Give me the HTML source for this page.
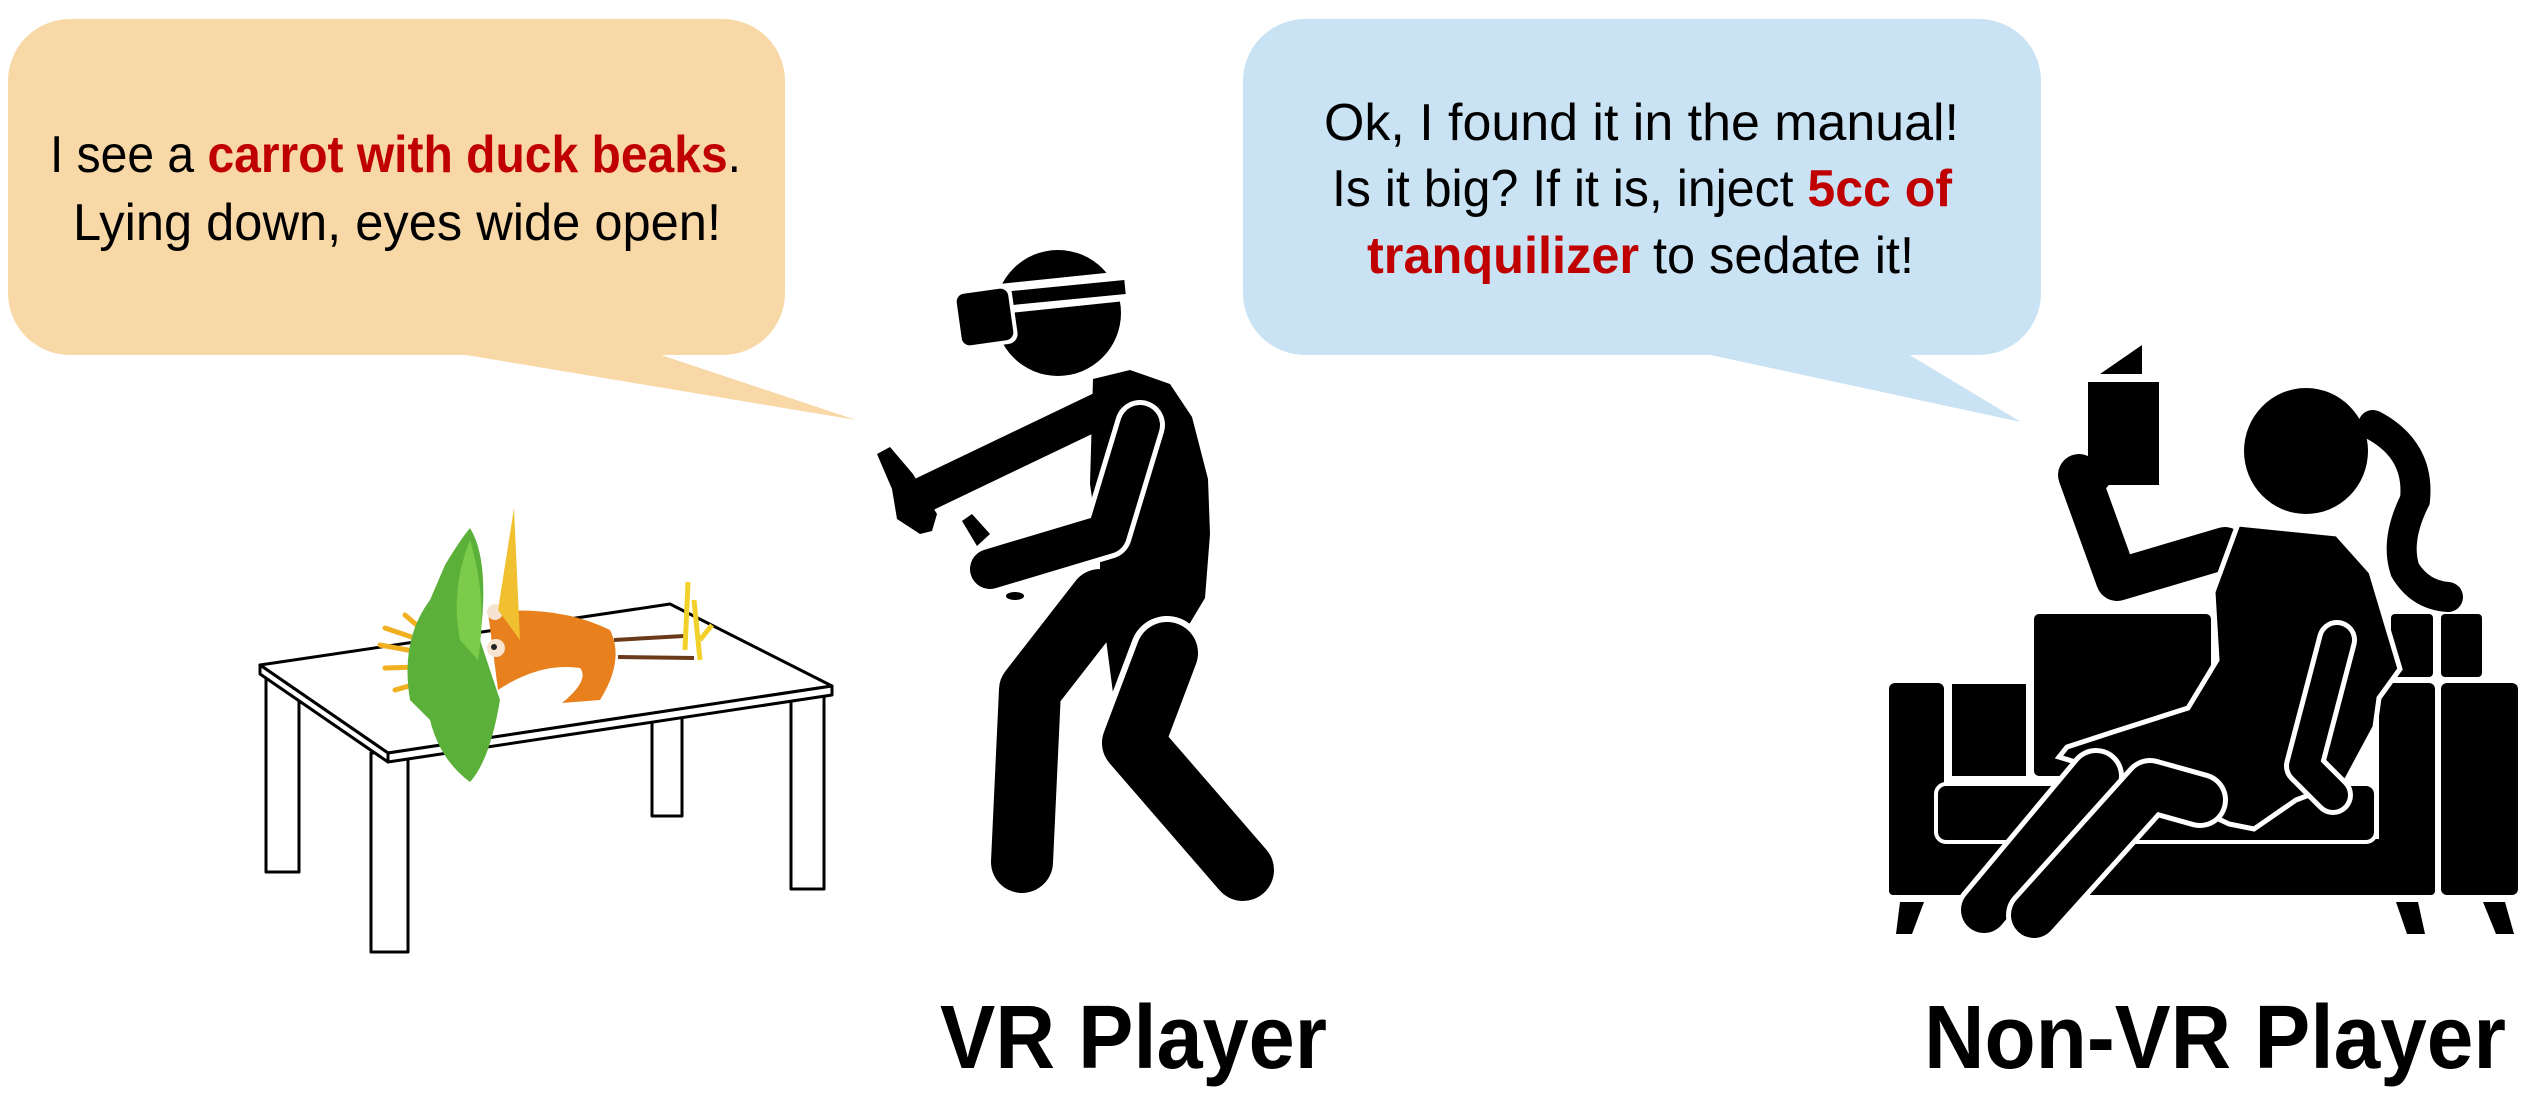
<!DOCTYPE html>
<html><head><meta charset="utf-8"><style>
html,body{margin:0;padding:0;background:#fff;}
svg{display:block;}
</style></head><body>
<svg width="2532" height="1098" viewBox="0 0 2532 1098" xmlns="http://www.w3.org/2000/svg" font-family="'Liberation Sans', sans-serif">
<!-- left bubble -->
<rect x="8" y="19" width="777" height="336" rx="62" fill="#F8D8A6"/>
<polygon points="460,354 658,354 856,420" fill="#F8D8A6"/>
<text y="172" x="50" font-size="52" textLength="691" lengthAdjust="spacingAndGlyphs" fill="#000">I see a <tspan fill="#C00000" font-weight="bold">carrot with duck beaks</tspan>.</text>
<text y="240" x="73" font-size="52" textLength="648" lengthAdjust="spacingAndGlyphs" fill="#000">Lying down, eyes wide open!</text>

<!-- right bubble -->
<rect x="1243" y="19" width="798" height="336" rx="62" fill="#C9E2F4"/>
<polygon points="1706,354 1908,354 2021,422" fill="#C9E2F4"/>
<text y="140" x="1324" font-size="52" textLength="635" lengthAdjust="spacingAndGlyphs">Ok, I found it in the manual!</text>
<text y="206" x="1332" font-size="52" textLength="620" lengthAdjust="spacingAndGlyphs">Is it big? If it is, inject <tspan fill="#C00000" font-weight="bold">5cc of</tspan></text>
<text y="273" x="1367" font-size="52" textLength="547" lengthAdjust="spacingAndGlyphs"><tspan fill="#C00000" font-weight="bold">tranquilizer</tspan> to sedate it!</text>

<!-- table -->
<g stroke="#000" stroke-width="3" fill="#fff" stroke-linejoin="round">
<rect x="266" y="676" width="33" height="196"/>
<rect x="652" y="700" width="30" height="116"/>
<rect x="791" y="693" width="33" height="196"/>
<rect x="371" y="753" width="37" height="199"/>
<polygon points="260,665 670,604 832,686 388,753"/>
<polygon points="260,665 388,753 388,762 260,674"/>
<polygon points="388,753 832,686 832,695 388,762"/>
</g>
<!-- carrot -->
<g>
<path d="M450,650 L385,628 M452,658 L380,645 M455,666 L385,668 M458,672 L395,690 M460,662 L405,615" stroke="#F0B020" stroke-width="5" stroke-linecap="round"/>
<path d="M614,640 L684,636 M618,657 L694,658" stroke="#6B3A1A" stroke-width="4"/>
<path d="M688,582 L685,650 M694,600 L700,660 M700,640 L712,625" stroke="#F2D22A" stroke-width="5"/>
<path d="M488,612 Q560,605 610,630 Q625,660 600,700 L562,703 Q590,680 580,668 Q540,662 498,690 Z" fill="#E8801E"/>
<circle cx="495" cy="612" r="8" fill="#F6E4D0"/><circle cx="496" cy="648" r="9" fill="#F6E4D0"/>
<circle cx="494" cy="647" r="3" fill="#222"/>
<polygon points="514,508 520,640 498,610" fill="#F0C030"/>
<path d="M470,528 Q490,560 480,640 L500,700 Q490,760 470,782 Q440,760 430,720 L410,700 Q400,640 430,600 L445,565 Q460,540 470,528 Z" fill="#5BB03A"/>
<path d="M470,540 Q488,600 478,660 L460,640 Q450,590 470,540 Z" fill="#7CCB4A"/>
</g>

<!-- VR player -->
<g fill="#000">
<circle cx="1058" cy="313" r="63"/>
<path d="M1100,600 L1030,690 L1022,862" stroke="#000" stroke-width="62" stroke-linecap="round" stroke-linejoin="round" fill="none"/>
<polygon points="1093,379 1130,370 1170,384 1192,417 1208,479 1210,534 1205,598 1190,623 1113,693 1100,593 1100,554 1090,484"/>
<path d="M1167,653 L1133,743 L1243,870" stroke="#fff" stroke-width="74" stroke-linecap="round" stroke-linejoin="round" fill="none"/>
<path d="M1167,653 L1133,743 L1243,870" stroke="#000" stroke-width="62" stroke-linecap="round" stroke-linejoin="round" fill="none"/>
<path d="M1113,404 L925,494" stroke="#000" stroke-width="36" stroke-linecap="round" fill="none"/>
<polygon points="877,454 890,447 913,474 937,514 932,531 920,534 897,519 892,489"/>
<path d="M1140,425 L1107,534 L990,569" stroke="#fff" stroke-width="50" stroke-linecap="round" stroke-linejoin="round" fill="none"/>
<path d="M1140,425 L1107,534 L990,569" stroke="#000" stroke-width="40" stroke-linecap="round" stroke-linejoin="round" fill="none"/>
<polygon points="962,521 972,514 990,534 977,546"/>
<ellipse cx="1015" cy="596" rx="9" ry="4"/>
<path d="M990,300 L1125,286" stroke="#fff" stroke-width="30"/>
<path d="M992,300 L1125,287" stroke="#000" stroke-width="14"/>
<rect x="955" y="287" width="60" height="60" rx="10" fill="#fff" transform="rotate(-8 985 317)"/>
<rect x="959" y="291" width="52" height="52" rx="8" transform="rotate(-8 985 317)"/>
</g>

<!-- Non-VR player: sofa -->
<g fill="#000">
<rect x="1889" y="683" width="55" height="212" rx="6"/>
<rect x="1952" y="684" width="74" height="92"/>
<rect x="2034" y="614" width="177" height="162" rx="5"/>
<rect x="2391" y="614" width="42" height="63" rx="4"/>
<rect x="2441" y="614" width="41" height="63" rx="4"/>
<rect x="1889" y="839" width="546" height="56" rx="4"/>
<rect x="1936" y="784" width="440" height="58" rx="10" stroke="#fff" stroke-width="4"/>
<rect x="2379" y="683" width="56" height="212" rx="6"/>
<rect x="2441" y="683" width="77" height="212" rx="6"/>
<path d="M1900,902 L1924,902 L1912,934 L1896,934 Z"/>
<path d="M2396,902 L2418,902 L2425,934 L2407,934 Z"/>
<path d="M2483,902 L2505,902 L2514,934 L2496,934 Z"/>
<!-- woman -->
<polygon points="2088,382 2159,382 2159,485 2088,485"/>
<polygon points="2100,374 2142,345 2142,374"/>
<ellipse cx="2306" cy="451" rx="62" ry="63"/>
<path d="M2373,425 Q2420,450 2415,500 Q2395,540 2405,570 Q2420,595 2448,597" stroke="#000" stroke-width="30" fill="none" stroke-linecap="round"/>
<path d="M2079,475 L2117,580 L2225,548" stroke="#000" stroke-width="42" stroke-linecap="round" stroke-linejoin="round" fill="none"/>
<rect x="2070" y="462" width="40" height="28" rx="10"/>
<polygon points="2238,524 2337,534 2371,572 2400,669 2379,698 2375,727 2346,781 2296,800 2254,829 2229,824 2179,800 2105,771 2059,757 2067,747 2113,732 2188,708 2217,660 2213,592" stroke="#fff" stroke-width="5"/>
<path d="M2096,776 L1984,910" stroke="#fff" stroke-width="56" stroke-linecap="round"/>
<path d="M2096,776 L1984,910" stroke="#000" stroke-width="46" stroke-linecap="round"/>
<path d="M2200,800 L2150,786 L2034,915" stroke="#fff" stroke-width="56" stroke-linecap="round" stroke-linejoin="round" fill="none"/>
<path d="M2200,800 L2150,786 L2034,915" stroke="#000" stroke-width="46" stroke-linecap="round" stroke-linejoin="round" fill="none"/>
<path d="M2337,640 L2304,766 L2333,795" stroke="#fff" stroke-width="40" stroke-linecap="round" stroke-linejoin="round" fill="none"/>
<path d="M2337,640 L2304,766 L2333,795" stroke="#000" stroke-width="30" stroke-linecap="round" stroke-linejoin="round" fill="none"/>
</g>

<!-- labels -->
<text x="940" y="1068" font-size="90" font-weight="bold" textLength="387" lengthAdjust="spacingAndGlyphs">VR Player</text>
<text x="1924" y="1068" font-size="90" font-weight="bold" textLength="582" lengthAdjust="spacingAndGlyphs">Non-VR Player</text>
</svg>
</body></html>
